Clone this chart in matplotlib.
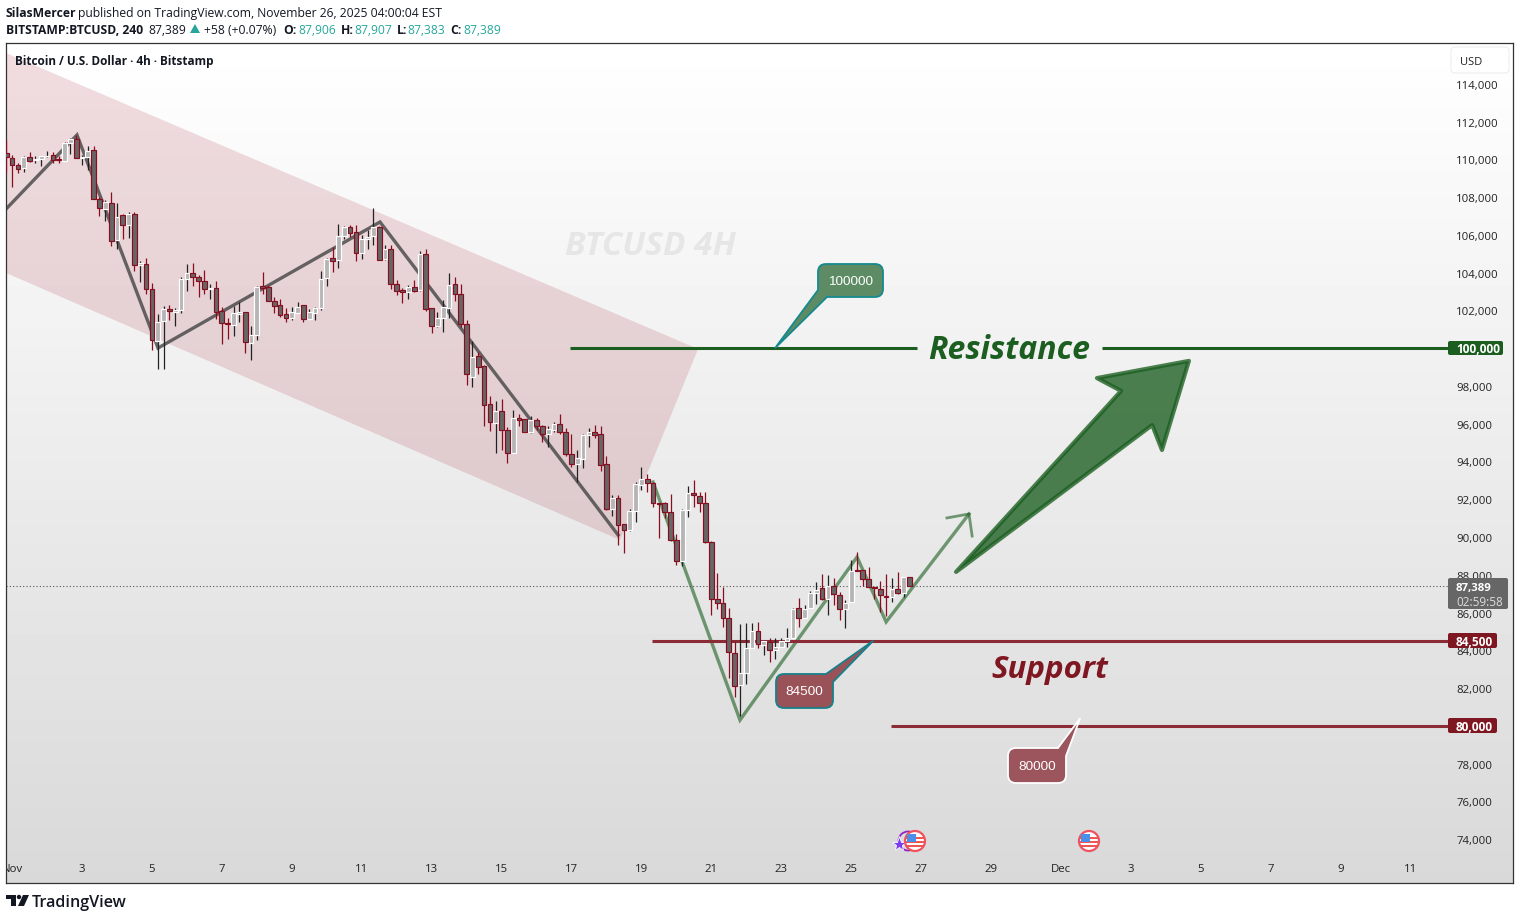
import numpy as np
from matplotlib import pyplot as plt
from matplotlib.patches import Circle, FancyBboxPatch, PathPatch, Polygon, Rectangle
from matplotlib.path import Path
from matplotlib.transforms import Affine2D

# 4h candles, first one is Oct 31 20:00
opens = [110330, 110060, 109690, 109530, 110120, 109990, 110010, 110170, 110220, 110030, 109940, 110860,
         111070, 110100, 110120, 110490, 107890, 107360, 107710, 105740, 107040, 106510, 107100, 104390,
         104480, 103120, 100400, 101430, 102100, 101900, 102010, 103650, 103970, 103790, 103580, 103140,
         103180, 101960, 101340, 101250, 101830, 101900, 100300, 100680, 103300, 103230, 102490, 102270,
         101800, 101620, 101890, 102270, 101570, 101890, 102150, 103700, 104760, 104660, 105960, 106410,
         106140, 105030, 105770, 105930, 106410, 104710, 105240, 103390, 103090, 102960, 103230, 103070,
         104980, 102120, 101200, 101590, 102120, 103390, 102860, 101270, 98500, 99570, 99040, 97030,
         96060, 96660, 95650, 94470, 96310, 96240, 95580, 96180, 95900, 95480, 95690, 95970,
         95550, 94420, 93890, 94120, 95390, 95550, 95440, 93850, 91500, 92050, 90670, 90350,
         91360, 92770, 93060, 92840, 91800, 91780, 91310, 89820, 88710, 91430, 92310, 92160,
         91780, 89720, 86730, 86490, 85690, 83840, 82140, 82780, 84100, 85000, 84300, 84460,
         84000, 84160, 84470, 84630, 86220, 85690, 86220, 87020, 87280, 86730, 87390, 86950,
         86170, 86560, 88250, 88230, 87760, 87330, 87260, 86890, 86800, 87260, 87020, 87906]
highs = [111030, 110240, 109800, 110190, 110420, 110190, 110190, 110450, 110420, 110190, 110950, 111120,
         111300, 110240, 110720, 110720, 108000, 107860, 108280, 107680, 107100, 107200, 107200, 104640,
         104760, 103460, 101800, 102220, 102270, 102150, 103760, 104460, 104500, 103880, 104150, 103400,
         103550, 102200, 101590, 102240, 102470, 101940, 101180, 103300, 104040, 103350, 102730, 102610,
         102130, 102200, 102450, 102270, 102080, 102200, 104090, 104760, 105380, 106580, 106480, 106530,
         106530, 106000, 106270, 107410, 106480, 105470, 105470, 103620, 103170, 103350, 103620, 105150,
         105240, 102150, 101940, 102560, 103990, 103770, 103400, 101500, 100400, 99820, 99110, 97470,
         97210, 97310, 95810, 96730, 96520, 96240, 96410, 96310, 95930, 95880, 96090, 96520,
         95780, 95460, 94610, 95460, 95780, 95930, 95880, 94290, 92210, 92210, 90670, 91480,
         92910, 93710, 93340, 92930, 91820, 91860, 92280, 90160, 91480, 92700, 93020, 92370,
         92390, 89770, 88080, 87330, 86220, 84510, 85390, 85430, 85430, 85500, 84540, 84670,
         84630, 84630, 85180, 86220, 86750, 86380, 87160, 87620, 88040, 87990, 87810, 87100,
         86660, 88780, 89210, 88250, 88390, 87330, 87690, 88040, 87810, 88130, 87860, 87907]
lows = [109360, 108560, 109270, 109360, 109890, 109830, 109670, 110150, 109830, 109830, 109940, 110290,
        110060, 109710, 109440, 107890, 107010, 106740, 105420, 105260, 105790, 105840, 104110, 103510,
        102880, 99910, 98920, 98920, 101500, 101200, 101890, 103030, 103300, 102730, 102880, 102610,
        101550, 100230, 100490, 100650, 101410, 99770, 99380, 100440, 102870, 102520, 101890, 101670,
        101410, 101500, 101850, 101410, 101570, 101500, 102030, 103300, 104040, 104250, 105770, 105880,
        104620, 104730, 105260, 105470, 104690, 104680, 103140, 102820, 102420, 102610, 103000, 103050,
        101970, 100830, 101130, 100860, 101590, 102500, 101140, 98070, 97950, 98650, 95900, 95630,
        94470, 94610, 93920, 94470, 95880, 95580, 95530, 95670, 95030, 94790, 95560, 95480,
        94310, 93730, 92910, 93670, 94790, 95260, 93520, 91430, 91110, 89600, 89170, 90340,
        90800, 92490, 92400, 91610, 89950, 91010, 89810, 88520, 88460, 91060, 91610, 91340,
        89700, 85890, 86190, 85250, 82510, 81540, 80520, 82210, 84100, 84140, 83750, 83400,
        83540, 84160, 84160, 84630, 85250, 85690, 86220, 86450, 86660, 85870, 86400, 85600,
        85180, 86560, 88220, 87420, 87330, 86700, 86040, 85820, 86570, 86980, 86840, 87383]
closes = [110120, 109690, 109520, 110120, 109940, 110030, 110190, 110200, 109990, 109990, 110860, 111070,
          110060, 110120, 110470, 107890, 107410, 107730, 105670, 106970, 106510, 107100, 104390, 104500,
          103120, 100420, 101410, 102100, 101960, 102050, 103650, 103970, 103790, 103580, 103120, 103180,
          101900, 101320, 101300, 101850, 101920, 100310, 100680, 103260, 103190, 102520, 102260, 101780,
          101620, 101900, 102200, 101570, 101900, 102150, 103690, 104750, 104640, 105960, 106410, 106120,
          105030, 105770, 105910, 106410, 104690, 105240, 103390, 103050, 102960, 103230, 103050, 104980,
          102100, 101200, 101590, 102170, 103370, 102860, 101300, 98620, 99560, 99030, 97010, 96080,
          96660, 95650, 94470, 96290, 96220, 95580, 96180, 95900, 95480, 95710, 95970, 95550,
          94420, 93890, 94170, 95390, 95550, 95420, 93800, 91500, 92050, 90650, 90350, 91360,
          92790, 93060, 92840, 91780, 91770, 91310, 89820, 88710, 91410, 92310, 92210, 91780,
          89720, 86730, 86490, 85690, 83890, 82120, 82780, 84100, 85000, 84310, 84470, 84000,
          84160, 84470, 84630, 86200, 85690, 86200, 87020, 87210, 86730, 87390, 86960, 86170,
          86520, 88220, 88220, 87760, 87330, 87320, 86910, 86800, 87260, 87020, 87860, 87389]
first_day = 5 / 6  # day numbers: Nov 1 = 1, Dec 1 = 31

# 80,000 and 100,000 sit under their level labels
price_ticks = [74000, 76000, 78000, 82000, 84000, 86000, 88000, 90000, 92000, 94000, 96000, 98000,
               102000, 104000, 106000, 108000, 110000, 112000, 114000]
day_ticks = [1, 3, 5, 7, 9, 11, 13, 15, 17, 19, 21, 23, 25, 27, 29, 31, 33, 35, 37, 39, 41]
day_labels = ['Nov', '3', '5', '7', '9', '11', '13', '15', '17', '19', '21', '23', '25', '27', '29',
              'Dec', '3', '5', '7', '9', '11']

# drawings
channel_days = [0.826, 20.62, 18.39, 0.826]
channel_prices = [115640, 99960, 89840, 103990]
gray_days = [0.855, 2.857, 5.174, 11.524, 18.332]
gray_prices = [107430, 111300, 100010, 106690, 90110]
green_days = [19.333, 21.82, 25.168, 26.0, 28.37]
green_prices = [92910, 80300, 88940, 85500, 91220]
head_days = [27.74, 28.37, 28.46]
head_prices = [91010, 91220, 90050]
arrow_days = [34.66, 32.03, 32.72, 28.0, 33.61, 33.89]
arrow_prices = [99330, 98420, 97740, 88150, 95930, 94610]

last_price = 87389
dark_green = '#1b5e20'
dark_red = '#7f1722'

plt.rcParams['font.family'] = ['Open Sans', 'DejaVu Sans']

fig = plt.figure(figsize=(15.2, 9.2), dpi=100)
ax = fig.add_axes([6 / 1520, 36 / 920, 1507 / 1520, 840 / 920])

# pixel coordinates, measured from the top left of the picture
px = Affine2D().scale(1, -1).translate(0, 920)

ax.imshow(np.linspace(1, 0.85, 256).reshape(-1, 1), cmap='gray', vmin=0, vmax=1, aspect='auto',
          extent=[0, 1, 0, 1], transform=ax.transAxes, zorder=0)
ax.set_xlim(0.826, 43.93)
ax.set_ylim(71669, 116172)

for side in ax.spines.values():
    side.set_color('#333333')
    side.set_linewidth(0.9)

ax.yaxis.tick_right()
ax.set_yticks(price_ticks)
ax.set_yticklabels([f'{p:,}' for p in price_ticks], va='center_baseline')
ax.tick_params(axis='y', length=0, pad=-41, labelsize=8.2, labelcolor='#222222')
ax.set_xticks(day_ticks)
ax.set_xticklabels(day_labels)
ax.tick_params(axis='x', length=0, pad=-14.5, labelsize=8.2, labelcolor='#222222')
for lab in ax.get_xticklabels():
    lab.set_clip_box(ax.bbox)
    lab.set_clip_on(True)

# channel and zigzags
ax.add_patch(Polygon(list(zip(channel_days, channel_prices)), closed=True, facecolor='#9c1020', alpha=0.14,
                     edgecolor='none', zorder=1))
ax.plot(gray_days, gray_prices, color='#444444', alpha=0.8, lw=2.4, zorder=2, solid_joinstyle='miter')
ax.plot(green_days, green_prices, color=dark_green, alpha=0.6, lw=2.4, zorder=2, solid_joinstyle='miter')
ax.plot(head_days, head_prices, color=dark_green, alpha=0.6, lw=2.0, zorder=2)

# horizontal levels
ax.hlines(100000, 16.96, 26.88, color=dark_green, lw=2.2, zorder=2)
ax.hlines(100000, 32.18, 42.07, color=dark_green, lw=2.2, zorder=2)
ax.hlines(84500, 19.3, 42.07, color='#8a2b35', lw=2.2, zorder=2)
ax.hlines(80000, 26.14, 42.07, color='#8a2b35', lw=2.2, zorder=2)
ax.hlines(last_price, 0.826, 42.07, color='#555555', lw=0.8, linestyles=(0, (1, 2)), zorder=2)

# candles
days = first_day + np.arange(len(opens)) / 6
o, h, l, c = np.array(opens), np.array(highs), np.array(lows), np.array(closes)
up = c >= o
ax.vlines(days[up], l[up], h[up], color='#222222', lw=0.9, zorder=3)
ax.vlines(days[~up], l[~up], h[~up], color='#880e1f', lw=0.9, zorder=3)
ax.bar(days[up], (c - o)[up], bottom=o[up], width=0.135, facecolor='#b5b5b5', edgecolor='white', lw=0.85, zorder=4)
ax.bar(days[~up], (o - c)[~up], bottom=c[~up], width=0.135, facecolor='#666666', edgecolor='#880e1f', lw=0.85, zorder=4)

# big arrow
ax.add_patch(Polygon(list(zip(arrow_days, arrow_prices)), closed=True, facecolor='#1b5e20', edgecolor='#1b5e20',
                     alpha=0.78, lw=3, joinstyle='round', zorder=5))


def rounded(points):
    # polygon from (x, y, radius) points in pixels, radius 0 is a sharp corner
    verts, codes = [], []
    n = len(points)
    for i, (x, y, r) in enumerate(points):
        p = np.array([x, y], float)
        if r == 0:
            verts.append(p)
            codes.append(Path.LINETO)
            continue
        prev = np.array(points[i - 1][:2], float)
        nxt = np.array(points[(i + 1) % n][:2], float)
        verts.append(p + (prev - p) / np.linalg.norm(prev - p) * r)
        codes.append(Path.LINETO)
        verts.append(p)
        codes.append(Path.CURVE3)
        verts.append(p + (nxt - p) / np.linalg.norm(nxt - p) * r)
        codes.append(Path.CURVE3)
    codes[0] = Path.MOVETO
    verts.append(verts[0])
    codes.append(Path.CLOSEPOLY)
    return Path(verts, codes)


def tip_px(day, price):
    return px.inverted().transform(ax.transData.transform((day, price)))


def callout(points, face, edge, label, cx, cy):
    ax.add_patch(PathPatch(rounded(points), facecolor=face, edgecolor=edge, lw=1.3, transform=px, zorder=6,
                           clip_on=False))
    ax.text(cx, cy, label, transform=px, ha='center', va='center', color='white', fontsize=9.7,
            family='Liberation Sans', zorder=7)


tx, ty = tip_px(22.82, 100000)
callout([(818, 265, 8), (883, 265, 8), (883, 298, 8), (827, 298, 0), (tx, ty, 0), (818, 291, 0)],
        '#5d8b63', '#16898f', '100000', 851, 282)
tx, ty = tip_px(25.63, 84500)
callout([(776, 675, 8), (826, 675, 0), (tx, ty, 0), (833, 683, 0), (833, 709, 8), (776, 709, 8)],
        '#9a5259', '#16808a', '84500', 804, 692)
tx, ty = tip_px(31.55, 80400)
callout([(1008, 749, 8), (1058, 749, 0), (tx, ty, 0), (1066, 757, 0), (1066, 784, 8), (1008, 784, 8)],
        '#9c555c', 'white', '80000', 1037, 767)


def label_box(x0, y0, x1, y1, color, text):
    ax.add_patch(FancyBboxPatch((x0 + 2, y0 + 2), x1 - x0 - 4, y1 - y0 - 4, boxstyle='round,pad=2,rounding_size=2',
                                facecolor=color, edgecolor='none', transform=px, zorder=8, clip_on=False))
    ax.text(x0 + 8, (y0 + y1) / 2 + 1, text, transform=px, va='center', color='white',
            fontsize=8.6, fontweight='bold', zorder=9)


label_box(1448, 342, 1503, 356, dark_green, '100,000')
label_box(1448, 634, 1497, 649, dark_red, '84,500')
label_box(1448, 719, 1497, 734, dark_red, '80,000')
label_box(1448, 579, 1508, 610, '#666666', '')
ax.text(1456, 589, '87,389', transform=px, va='center', color='white', fontsize=8.2, fontweight='bold', zorder=9)
ax.text(1456, 603, '02:59:58', transform=px, va='center', color='#dddddd', fontsize=8.5, zorder=9)

ax.add_patch(FancyBboxPatch((1453, 50), 54, 22, boxstyle='round,pad=2,rounding_size=4', facecolor='white',
                            edgecolor='#eeeeee', lw=0.8, transform=px, zorder=8, clip_on=False))
ax.text(1460, 63, 'USD', transform=px, va='center', color='#222222', fontsize=8, zorder=9)

# big labels
ax.text(1009, 351, 'Resistance', transform=px, ha='center', va='center', color=dark_green, fontsize=23,
        fontstyle='italic', fontweight='bold', family='Open Sans', zorder=6)
ax.text(1050, 670, 'Support', transform=px, ha='center', va='center', color=dark_red, fontsize=22.5,
        fontstyle='italic', fontweight='bold', family='Open Sans', zorder=6)
ax.text(650, 247, 'BTCUSD 4H', transform=px, ha='center', va='center', color='#e6e6e6', fontsize=24,
        fontstyle='italic', fontweight='bold', family='Open Sans', zorder=1)


def flag(cx, cy):
    ring = Circle((cx, cy), 10, facecolor='white', edgecolor='#f0525f', lw=1.6, transform=px, zorder=7, clip_on=False)
    ax.add_patch(ring)
    for dy in (-3.5, 0.5, 4.5):
        ax.plot([cx - 8, cx + 8], [cy + dy, cy + dy], color='#ef5350', lw=1.4, transform=px, zorder=8)
    ax.add_patch(Rectangle((cx - 8, cy - 7), 8.5, 7.5, facecolor='#4a90e8', edgecolor='none', transform=px, zorder=9))


ax.add_patch(Circle((908, 842), 9.5, facecolor='none', edgecolor='#8e24cc', lw=1.3, transform=px, zorder=6))
ax.plot([899], [845], marker='*', ms=11, color='#7c3cf0', mec='white', mew=0.6, transform=px, zorder=6.5)
flag(915, 842)
flag(1089, 842)

# header
ink = '#131722'
teal = '#26a69a'
head_font = 8.7
ax.text(6, 14, 'SilasMercer', transform=px, va='center', color=ink, fontsize=head_font, fontweight='bold', clip_on=False)
ax.text(78, 14, 'published on TradingView.com, November 26, 2025 04:00:04 EST', transform=px, va='center', color=ink,
        fontsize=head_font, clip_on=False)
ax.text(6, 31, 'BITSTAMP:BTCUSD, 240', transform=px, va='center', color=ink, fontsize=head_font, fontweight='bold')
ax.text(148, 31, '87,389', transform=px, va='center', color=ink, fontsize=head_font)
ax.add_patch(Polygon([(190, 34), (200, 34), (195, 25)], closed=True, facecolor=teal, edgecolor='none', transform=px,
                     clip_on=False))
ax.text(204, 31, '+58 (+0.07%)', transform=px, va='center', color=ink, fontsize=head_font)
for x_key, key, x_val, val in [(283, 'O:', 298, '87,906'), (341, 'H:', 354, '87,907'),
                               (397, 'L:', 407, '87,383'), (450, 'C:', 463, '87,389')]:
    ax.text(x_key, 31, key, transform=px, va='center', color=ink, fontsize=head_font, fontweight='bold')
    ax.text(x_val, 31, val, transform=px, va='center', color=teal, fontsize=head_font)
ax.text(15, 62, 'Bitcoin / U.S. Dollar · 4h · Bitstamp', transform=px, va='center', color=ink, fontsize=8.5,
        fontweight='bold', zorder=9)

# logo
ax.add_patch(Polygon([(6, 896), (16, 896), (16, 907), (11, 907), (11, 900), (6, 900)], closed=True, facecolor=ink,
                     edgecolor='none', transform=px, clip_on=False))
ax.add_patch(Circle((19, 898), 2.2, facecolor=ink, edgecolor='none', transform=px, clip_on=False))
ax.add_patch(Polygon([(23, 896), (29, 896), (24, 907), (18, 907)], closed=True, facecolor=ink, edgecolor='none',
                     transform=px, clip_on=False))
ax.text(32, 903, 'TradingView', transform=px, va='center', color=ink, fontsize=11.6, fontweight='semibold', clip_on=False)

fig.savefig('out.png', dpi=100)
